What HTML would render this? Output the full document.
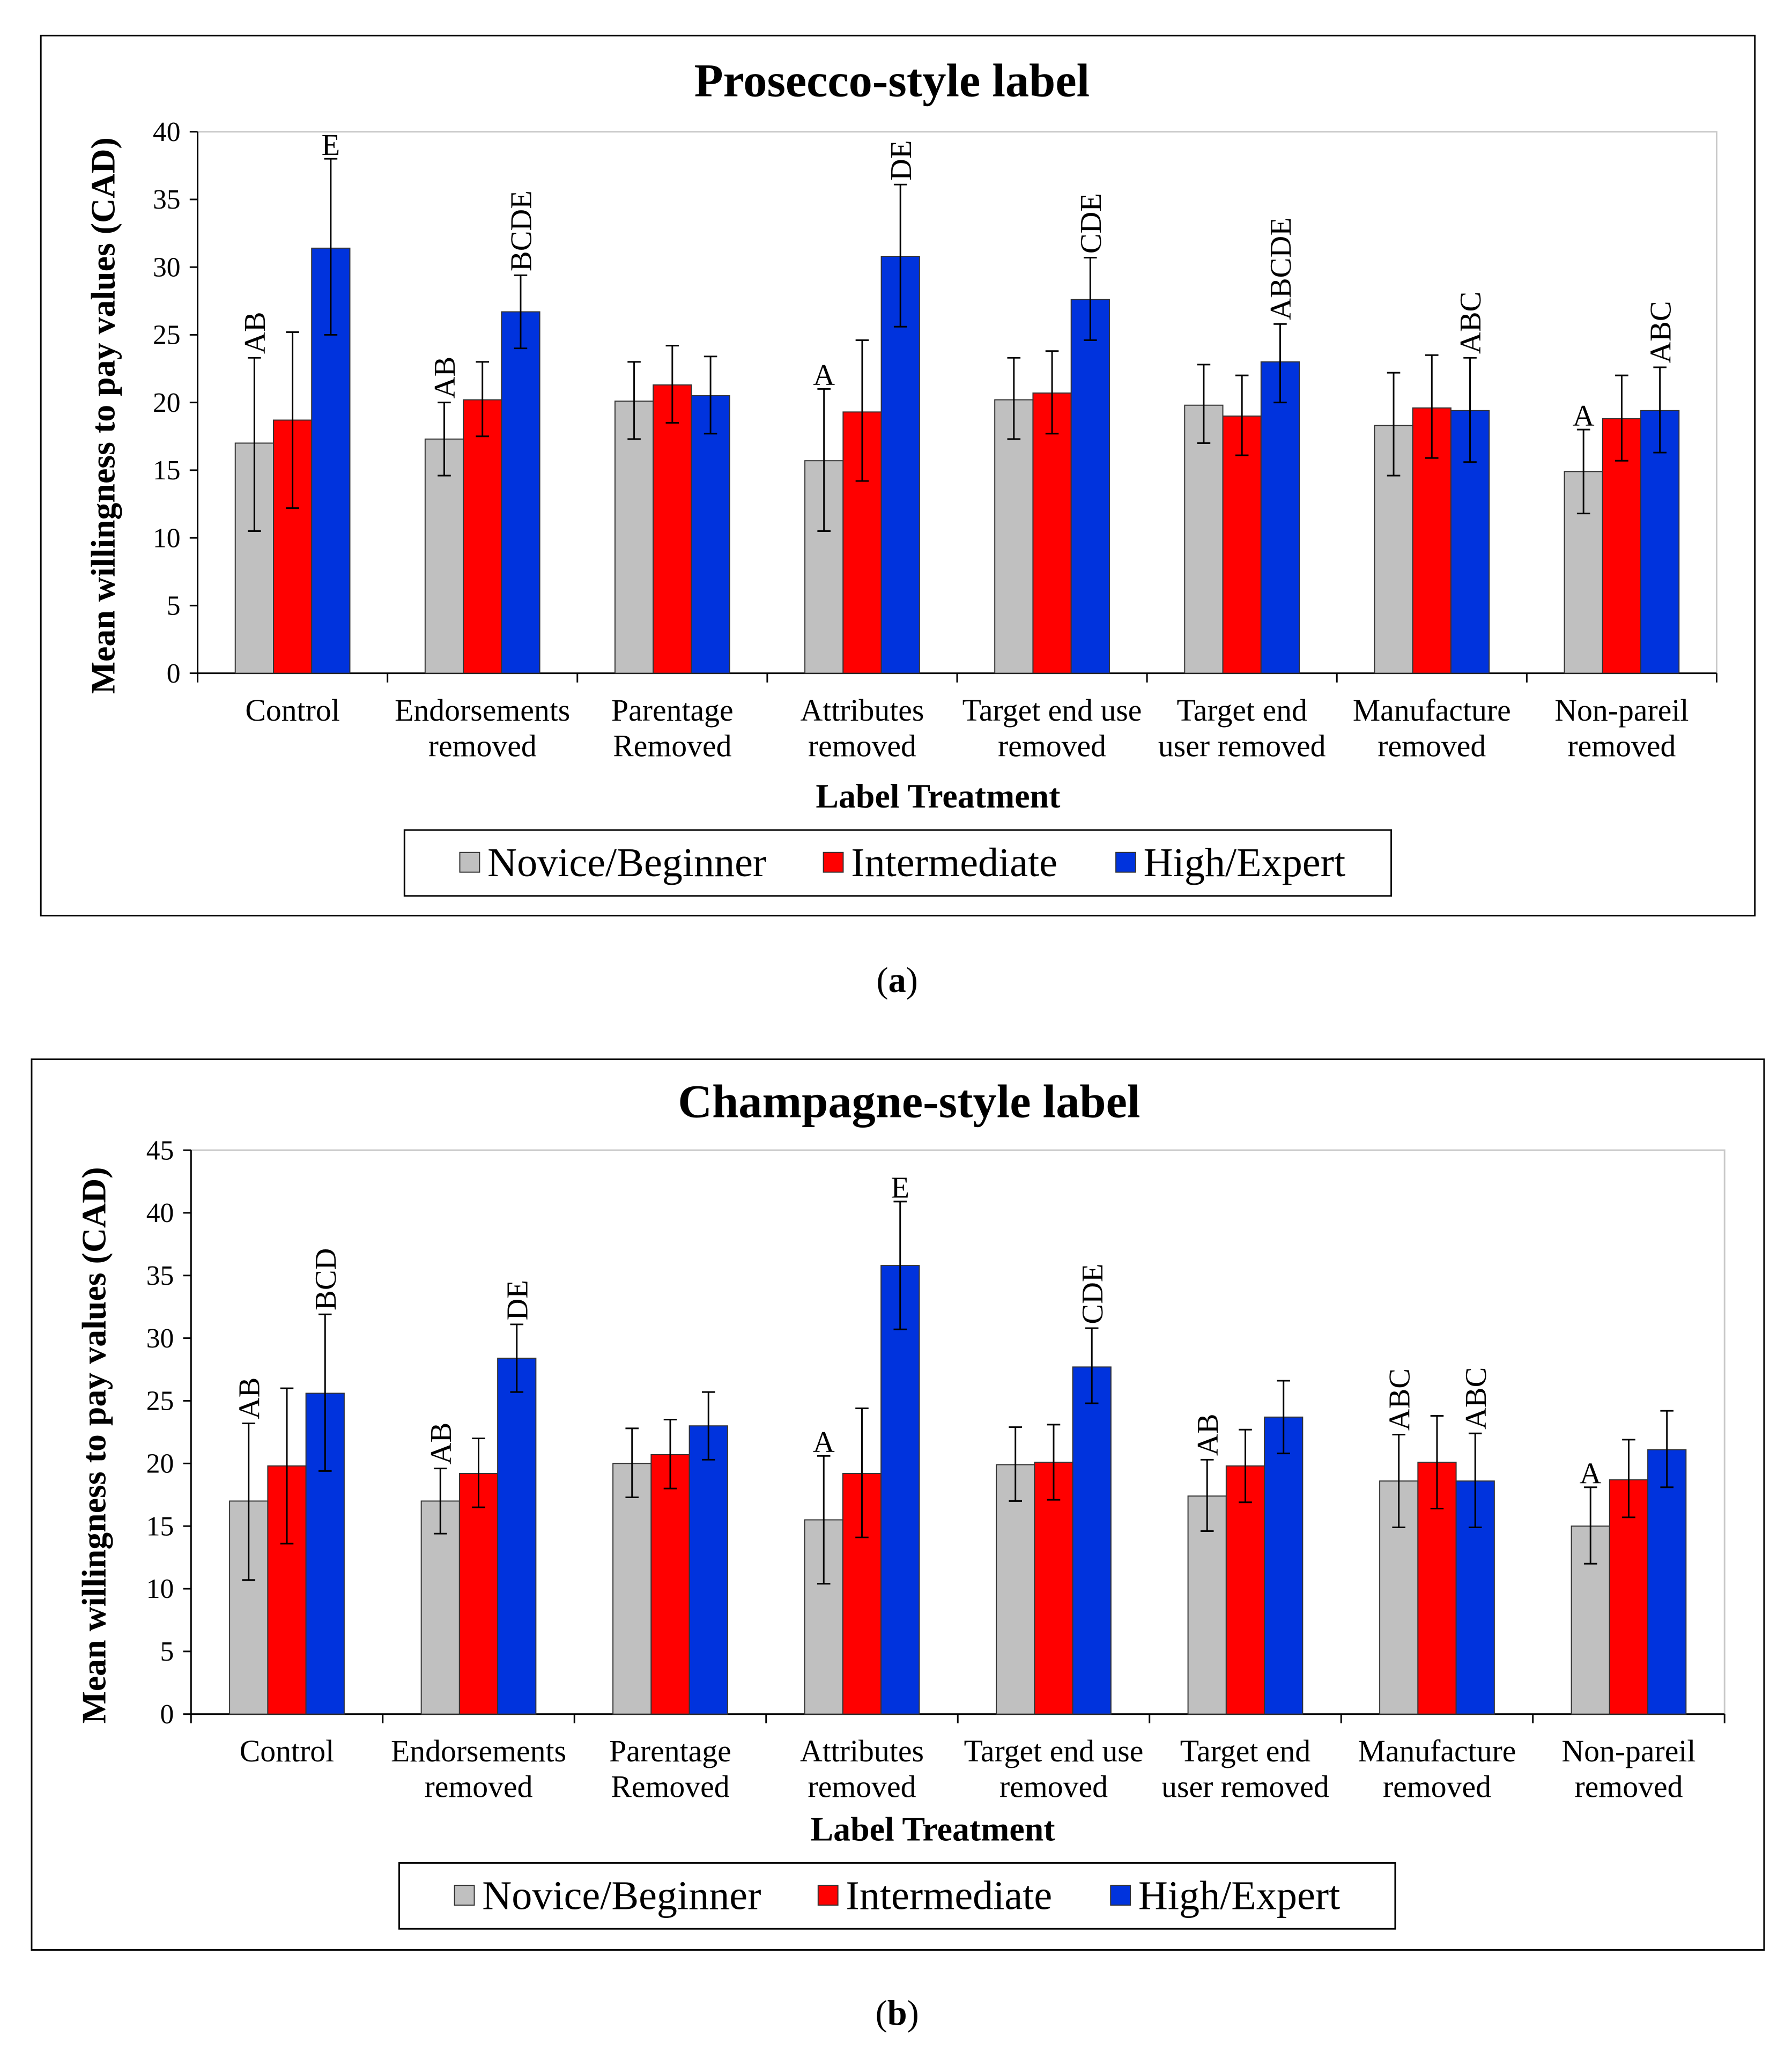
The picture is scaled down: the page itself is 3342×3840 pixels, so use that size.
<!DOCTYPE html>
<html><head><meta charset="utf-8"><style>
html,body{margin:0;padding:0;background:#fff}
svg{display:block}
text{font-family:"Liberation Serif",serif;fill:#000}
</style></head><body>
<svg id="fig" width="3342" height="3840" viewBox="0 0 1360.2 1562.8" preserveAspectRatio="none" xmlns="http://www.w3.org/2000/svg"></svg>
<script>
const categories = ["Control|","Endorsements|removed","Parentage|Removed","Attributes|removed","Target end use|removed","Target end|user removed","Manufacture|removed","Non-pareil|removed"];
const seriesNames = ["Novice/Beginner","Intermediate","High/Expert"];
const colors = ["#c0c0c0","#ff0000","#0033dd"];
// Chart A (Prosecco)
const aNovice = [17,17.3,20.1,15.7,20.2,19.8,18.3,14.9];
const aNoviceLo = [10.5,14.6,17.3,10.5,17.3,17,14.6,11.8];
const aNoviceHi = [23.3,20,23,21,23.3,22.8,22.2,18];
const aInter = [18.7,20.2,21.3,19.3,20.7,19,19.6,18.8];
const aInterLo = [12.2,17.5,18.5,14.2,17.7,16.1,15.9,15.7];
const aInterHi = [25.2,23,24.2,24.6,23.8,22,23.5,22];
const aExpert = [31.4,26.7,20.5,30.8,27.6,23,19.4,19.4];
const aExpertLo = [25,24,17.7,25.6,24.6,20,15.6,16.3];
const aExpertHi = [38,29.4,23.4,36.1,30.7,25.8,23.3,22.6];
const aNoviceLetters = ["AB","AB","","A","","","",  "A"];
const aExpertLetters = ["E","BCDE","","DE","CDE","ABCDE","ABC","ABC"];
const aTicks = [0,5,10,15,20,25,30,35,40];
// Chart B (Champagne)
const bNovice = [17,17,20,15.5,19.9,17.4,18.6,15];
const bNoviceLo = [10.7,14.4,17.3,10.4,17,14.6,14.9,12];
const bNoviceHi = [23.2,19.6,22.8,20.6,22.9,20.3,22.3,18.1];
const bInter = [19.8,19.2,20.7,19.2,20.1,19.8,20.1,18.7];
const bInterLo = [13.6,16.5,18,14.1,17.1,16.9,16.4,15.7];
const bInterHi = [26,22,23.5,24.4,23.1,22.7,23.8,21.9];
const bExpert = [25.6,28.4,23,35.8,27.7,23.7,18.6,21.1];
const bExpertLo = [19.4,25.7,20.3,30.7,24.8,20.8,14.9,18.1];
const bExpertHi = [31.9,31.1,25.7,40.9,30.8,26.6,22.4,24.2];
const bNoviceLetters = ["AB","AB","","A","","AB","ABC","A"];
const bExpertLetters = ["BCD","DE","","E","CDE","","ABC",""];
const bTicks = [0,5,10,15,20,25,30,35,40,45];

const NS="http://www.w3.org/2000/svg";
const svg=document.getElementById('fig');
function el(tag,attrs,parent,txt){const e=document.createElementNS(NS,tag);for(const k in attrs)e.setAttribute(k,attrs[k]);if(txt!==undefined)e.textContent=txt;(parent||svg).appendChild(e);return e;}

function chart(cfg){
  const g=el('g',{});
  
  
  const box=el('rect',{x:cfg.box[0],y:cfg.box[1],width:cfg.box[2]-cfg.box[0],height:cfg.box[3]-cfg.box[1],fill:'none',stroke:'#000','stroke-width':1.2},g);
  
  const t=el('text',{x:cfg.titleX,y:cfg.titleY,'text-anchor':'middle','font-size':36,'font-weight':'bold'},g,cfg.title);
  
  const L=cfg.left,R=cfg.right,T=cfg.top,B=cfg.bottom,ymax=cfg.ticks[cfg.ticks.length-1];
  const y=v=>B-(v/ymax)*(B-T);
  const cw=(R-L)/categories.length;
  const xc=i=>L+cw*(i+0.5);
  const plot=el('rect',{x:L,y:T,width:R-L,height:B-T,fill:'none',stroke:'#c8c8c8','stroke-width':1.2},g);
  
  el('line',{x1:L,y1:T,x2:L,y2:B,stroke:'#000','stroke-width':1.2},g);
  el('line',{x1:L,y1:B,x2:R,y2:B,stroke:'#000','stroke-width':1.2},g);
  cfg.ticks.forEach(v=>{
    el('line',{x1:L-6,y1:y(v),x2:L,y2:y(v),stroke:'#000','stroke-width':1.2},g);
    const tl=el('text',{x:L-13,y:y(v)+7,'text-anchor':'end','font-size':21},g,v);
    
  });
  for(let i=0;i<=categories.length;i++){
    el('line',{x1:L+cw*i,y1:B,x2:L+cw*i,y2:B+7,stroke:'#000','stroke-width':1.2},g);
  }
  const bw=29;
  const series=[[cfg.s[0],cfg.lo[0],cfg.hi[0]],[cfg.s[1],cfg.lo[1],cfg.hi[1]],[cfg.s[2],cfg.lo[2],cfg.hi[2]]];
  categories.forEach((c,i)=>{
    const parts=c.split('|');
    parts.forEach((p,k)=>{
      const ct=el('text',{x:xc(i),y:B+36+k*27,'text-anchor':'middle','font-size':23.5},g,p);
      
    });
    series.forEach((s,j)=>{
      const x0=xc(i)-1.5*bw+j*bw;
      const r=el('rect',{x:x0,y:y(s[0][i]),width:bw,height:B-y(s[0][i]),fill:colors[j],stroke:'#333','stroke-width':0.8},g);
      
      const cx=x0+bw/2;
      el('line',{x1:cx,y1:y(s[1][i]),x2:cx,y2:y(s[2][i]),stroke:'#000','stroke-width':1.2},g);
      el('line',{x1:cx-5,y1:y(s[1][i]),x2:cx+5,y2:y(s[1][i]),stroke:'#000','stroke-width':1.2},g);
      el('line',{x1:cx-5,y1:y(s[2][i]),x2:cx+5,y2:y(s[2][i]),stroke:'#000','stroke-width':1.2},g);
      const lab=j===0?cfg.nl[i]:(j===2?cfg.el[i]:'');
      if(lab){
        const top=y(s[2][i])-3;
        let lt;
        if(lab.length===1){lt=el('text',{x:cx,y:top,'text-anchor':'middle','font-size':23},g,lab);}
        else{lt=el('text',{x:cx+8,y:top,'text-anchor':'start','font-size':23,transform:`rotate(-90 ${cx+8} ${top})`},g,lab);}
        
      }
    });
  });
  const ax=el('text',{x:cfg.ytitleX,y:(T+B)/2+10,'text-anchor':'middle','font-size':26,'font-weight':'bold',transform:`rotate(-90 ${cfg.ytitleX} ${(T+B)/2+10})`},g,'Mean willingness to pay values (CAD)');
  
  const xt=el('text',{x:cfg.xtitle[0],y:cfg.xtitle[1],'text-anchor':'middle','font-size':26,'font-weight':'bold'},g,'Label Treatment');
  
  const lg=cfg.legend;
  const lgr=el('rect',{x:lg[0],y:lg[1],width:lg[2]-lg[0],height:lg[3]-lg[1],fill:'none',stroke:'#000','stroke-width':1.2},g);
  
  const lx=[lg[0]+42,lg[0]+318,lg[0]+540];
  seriesNames.forEach((n,j)=>{
    const cy=(lg[1]+lg[3])/2;
    const sw=el('rect',{x:lx[j],y:cy-8,width:15,height:15,fill:colors[j],stroke:'#333','stroke-width':0.8},g);
    
    const tx=el('text',{x:lx[j]+21,y:cy+10,'font-size':31},g,n);
    
  });
  const cap=el('text',{x:681,y:cfg.capY,'text-anchor':'middle','font-size':27},g);
  
  el('tspan',{},cap,'(');el('tspan',{'font-weight':'bold'},cap,cfg.cap);el('tspan',{},cap,')');
}
chart({name:'prosecco-chart',box:[31,27,1332,695],title:'Prosecco-style label',titleX:677,titleY:73,
  left:150,right:1303,top:100,bottom:511,ticks:aTicks,
  s:[aNovice,aInter,aExpert],lo:[aNoviceLo,aInterLo,aExpertLo],hi:[aNoviceHi,aInterHi,aExpertHi],
  nl:aNoviceLetters,el:aExpertLetters,ytitleX:87,xtitle:[712,613],legend:[307,630,1056,680],capY:753,cap:'a'});
chart({name:'champagne-chart',box:[24,804,1339,1480],title:'Champagne-style label',titleX:690,titleY:848,
  left:145,right:1309,top:873,bottom:1301,ticks:bTicks,
  s:[bNovice,bInter,bExpert],lo:[bNoviceLo,bInterLo,bExpertLo],hi:[bNoviceHi,bInterHi,bExpertHi],
  nl:bNoviceLetters,el:bExpertLetters,ytitleX:80,xtitle:[708,1397],legend:[303,1414,1059,1464],capY:1537,cap:'b'});
</script>
</body></html>
